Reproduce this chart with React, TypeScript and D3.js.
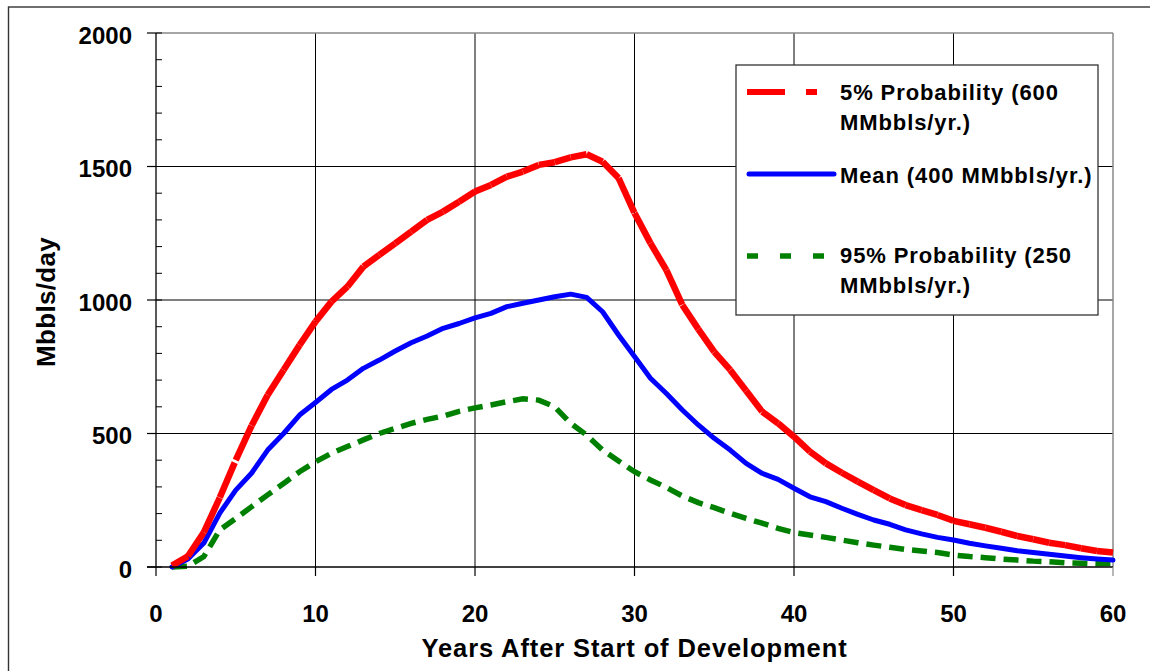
import React from "react";
import * as d3 from "d3";

// Production forecast, Mbbls/day by year after start of development
const years: number[] = d3.range(1, 61);

const p05: number[] = [
  5, 40, 130, 260, 400, 530, 644, 738, 831, 919,
  994, 1050, 1125, 1169, 1212, 1256, 1300, 1331, 1368, 1406,
  1431, 1462, 1481, 1506, 1516, 1534, 1546, 1518, 1457, 1326,
  1213, 1112, 981, 891, 806, 738, 660, 582, 538, 488,
  432, 388, 353, 320, 288, 257, 232, 213, 195, 173,
  160, 147, 132, 116, 104, 91, 82, 70, 60, 54,
];

const mean: number[] = [
  0, 30, 90, 202, 288, 352, 438, 500, 569, 616,
  665, 700, 744, 775, 809, 840, 865, 894, 912, 933,
  950, 975, 988, 1000, 1012, 1022, 1010, 956, 869, 788,
  707, 650, 588, 532, 482, 438, 388, 351, 328, 295,
  263, 245, 220, 197, 176, 160, 139, 124, 111, 101,
  89, 79, 70, 61, 54, 48, 41, 35, 30, 26,
];

const p95: number[] = [
  0, 3, 39, 139, 182, 226, 270, 313, 357, 394,
  426, 451, 476, 500, 519, 538, 553, 565, 583, 596,
  607, 619, 630, 625, 600, 538, 494, 438, 397, 357,
  326, 298, 266, 241, 222, 201, 182, 164, 145, 129,
  120, 111, 101, 91, 82, 74, 66, 60, 54, 45,
  39, 35, 30, 26, 22, 20, 16, 14, 12, 13,
];

const xTicks: number[] = [0, 10, 20, 30, 40, 50, 60];
const yTicks: number[] = [0, 500, 1000, 1500, 2000];
const yMinorTicks: number[] = d3.range(0, 2001, 100);

const legendLabels: string[][] = [
  ["5% Probability (600", "MMbbls/yr.)"],
  ["Mean (400 MMbbls/yr.)"],
  ["95% Probability (250", "MMbbls/yr.)"],
];

const W = 1150;
const H = 671;
const left = 156;
const right = 1113;
const top = 33;
const bottom = 567;

const FONT = "'Liberation Sans', Arial, Helvetica, sans-serif";

export default function App() {
  const x = d3.scaleLinear().domain([0, 60]).range([left, right]);
  const y = d3.scaleLinear().domain([0, 2000]).range([bottom, top]);

  const pts = (vals: number[]) => years.map((yr, i) => [x(yr), y(vals[i])] as [number, number]);
  const line = d3.line<[number, number]>();

  const redPts = pts(p05);
  const bluePts = pts(mean);
  const greenPts = pts(p95);

  // the 5% curve is stroked segment by segment; the dash pattern restarts on each one
  const redSegments = redPts.slice(0, -1).map((p, i) => line([p, redPts[i + 1]]) as string);

  const lx = 736, ly = 65, lw = 362, lh = 250;

  return (
    <svg
      width={W}
      height={H}
      style={{ position: "absolute", left: 0, top: 0, background: "#fff" }}
      fontFamily={FONT}
      fontWeight="bold"
    >
      <rect x={0} y={0} width={W} height={H} fill="#fff" />
      {/* outer frame */}
      <rect x={8.5} y={7} width={W + 20} height={H + 20} fill="none" stroke="#333" strokeWidth={1.4} />

      {/* grid */}
      {xTicks.filter((t) => t > 0 && t < 60).map((t) => (
        <line key={"gx" + t} x1={x(t)} x2={x(t)} y1={top} y2={bottom} stroke="#000" strokeWidth={1} />
      ))}
      {yTicks.filter((t) => t > 0 && t < 2000).map((t) => (
        <line key={"gy" + t} x1={left} x2={right} y1={y(t)} y2={y(t)} stroke="#000" strokeWidth={1} />
      ))}

      {/* plot frame: top and right */}
      <line x1={left} x2={right} y1={top} y2={top} stroke="#888" strokeWidth={1.5} />
      <line x1={right} x2={right} y1={top} y2={bottom} stroke="#888" strokeWidth={1.5} />

      {/* series */}
      <path
        d={line(greenPts) as string}
        fill="none"
        stroke="#008000"
        strokeWidth={5.5}
        strokeDasharray="15,8"
        strokeLinecap="butt"
      />
      <path
        d={line(bluePts) as string}
        fill="none"
        stroke="#0000ff"
        strokeWidth={5}
        strokeLinejoin="round"
        strokeLinecap="round"
      />
      {redSegments.map((d, i) => (
        <path
          key={"r" + i}
          d={d}
          fill="none"
          stroke="#ff0000"
          strokeWidth={6.5}
          strokeDasharray="38,21,11,21"
          strokeLinecap="butt"
        />
      ))}

      {/* axes */}
      <line x1={left} x2={left} y1={top} y2={bottom} stroke="#000" strokeWidth={1.3} />
      <line x1={left - 9} x2={right} y1={bottom} y2={bottom} stroke="#000" strokeWidth={1.3} />
      {yMinorTicks.map((t) => (
        <line key={"ym" + t} x1={left} x2={left + 6} y1={y(t)} y2={y(t)} stroke="#000" strokeWidth={1} />
      ))}
      {yTicks.map((t) => (
        <g key={"yt" + t}>
          <line x1={left - 9} x2={left} y1={y(t)} y2={y(t)} stroke="#000" strokeWidth={1.2} />
          <text x={132} y={y(t)} dy={10.5} textAnchor="end" fontSize={24} fill="#000">
            {t}
          </text>
        </g>
      ))}
      {xTicks.map((t) => (
        <g key={"xt" + t}>
          <line x1={x(t)} x2={x(t)} y1={bottom} y2={bottom + 9} stroke={t === 60 ? "#888" : "#000"} strokeWidth={1.2} />
          <text x={x(t)} y={621.5} textAnchor="middle" fontSize={24} fill="#000">
            {t}
          </text>
        </g>
      ))}

      {/* axis titles */}
      <text
        x={(left + right) / 2}
        y={657}
        textAnchor="middle"
        fontSize={25.5}
        letterSpacing={0.9}
        fill="#000"
      >
        Years After Start of Development
      </text>
      <text
        transform={`translate(55,${(top + bottom) / 2 + 2}) rotate(-90)`}
        textAnchor="middle"
        fontSize={26}
        letterSpacing={0.3}
        fill="#000"
      >
        Mbbls/day
      </text>

      {/* legend */}
      <rect x={lx} y={ly} width={lw} height={lh} fill="#fff" stroke="#333" strokeWidth={1.3} />
      <line x1={747} x2={818} y1={92} y2={92} stroke="#ff0000" strokeWidth={6} strokeDasharray="38,21,11,21" />
      <line x1={749} x2={834} y1={174} y2={174} stroke="#0000ff" strokeWidth={5} strokeLinecap="round" />
      <line x1={747} x2={824} y1={256} y2={256} stroke="#008000" strokeWidth={5.5} strokeDasharray="11,22" />
      <text x={840} y={100} fontSize={22} letterSpacing={0.9} fill="#000">
        {legendLabels[0][0]}
      </text>
      <text x={840} y={130} fontSize={22} letterSpacing={0.9} fill="#000">
        {legendLabels[0][1]}
      </text>
      <text x={840} y={183} fontSize={22} letterSpacing={0.9} fill="#000">
        {legendLabels[1][0]}
      </text>
      <text x={840} y={263} fontSize={22} letterSpacing={0.9} fill="#000">
        {legendLabels[2][0]}
      </text>
      <text x={840} y={293} fontSize={22} letterSpacing={0.9} fill="#000">
        {legendLabels[2][1]}
      </text>
    </svg>
  );
}
